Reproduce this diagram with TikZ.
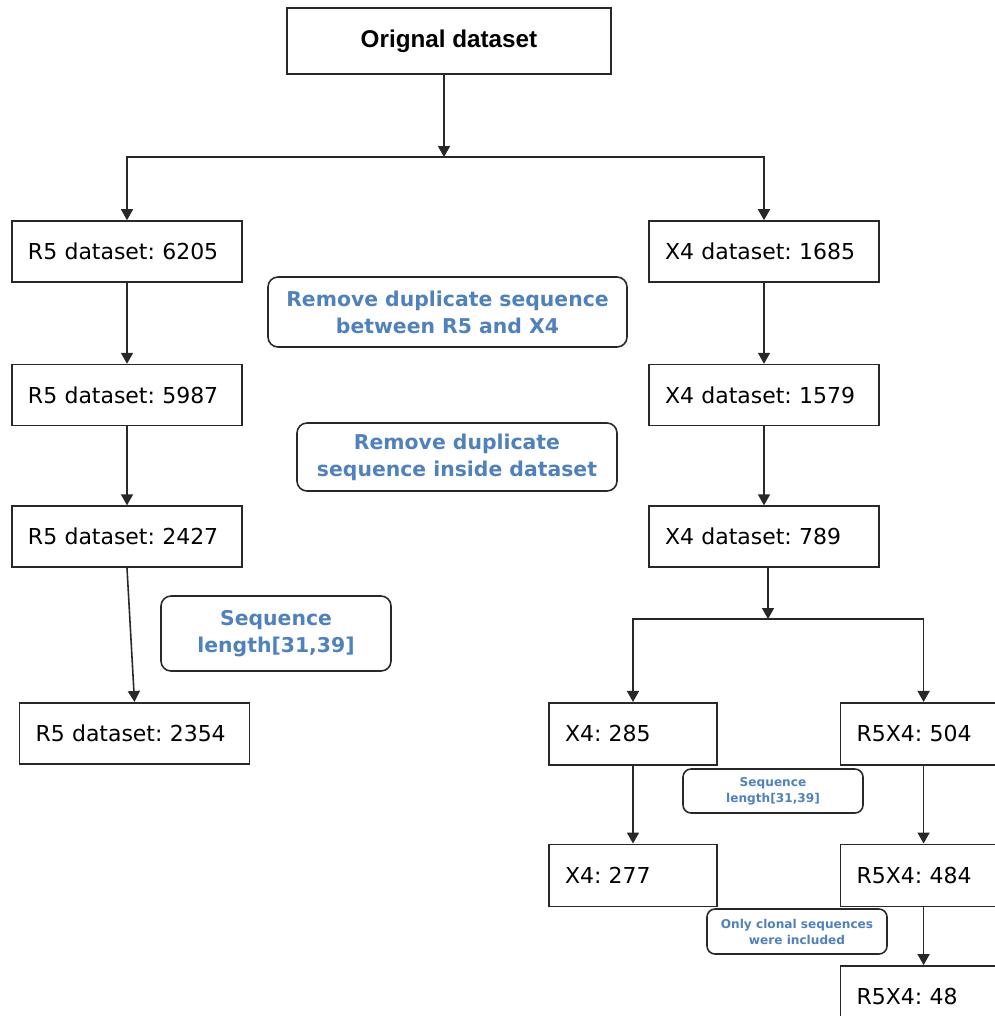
\documentclass[tikz,border=0pt]{standalone}
\usepackage{fontspec}
\usepackage{xcolor}
\usepackage{tikz}
\usetikzlibrary{arrows.meta, positioning}
\newfontfamily\dejavu{DejaVu Sans}
\newfontfamily\titlefont{Liberation Sans}
\definecolor{noteblue}{RGB}{79,129,189}
\definecolor{linegray}{RGB}{40,40,40}
\frenchspacing

\begin{document}
\begin{tikzpicture}[
  box/.style={rectangle, draw=linegray, line width=0.9pt, fill=white,
              minimum height=1.22cm, inner xsep=0.32cm, text width=#1,
              align=left, font=\dejavu\fontsize{12.5}{15}\selectfont},
  box/.default=3.96cm,
  note/.style={rectangle, rounded corners=0.2cm, draw=linegray, line width=0.9pt,
               text=noteblue, align=center, inner sep=1pt,
               font=\dejavu\bfseries\fontsize{11.6}{15.4}\selectfont},
  smallnote/.style={note, rounded corners=0.16cm,
                    font=\dejavu\bfseries\fontsize{6.9}{9.1}\selectfont},
  arr/.style={-{Triangle[length=0.22cm, width=0.24cm]}, line width=0.9pt, draw=linegray},
  node distance=1.62cm and 2.44cm
]
  \useasboundingbox (0,0) rectangle (19.9,-20.32);

  % Top
  \node[rectangle, draw=linegray, line width=0.9pt, minimum width=6.48cm, minimum height=1.32cm,
        font=\titlefont\bfseries\fontsize{13.8}{16}\selectfont] (orig) at (8.98,-0.82) {Orignal dataset};
  \coordinate (split1) at (8.88,-3.14);

  % Left column — R5
  \node[box] (r5a) at (2.54,-5.03) {R5 dataset: 6205};
  \node[box, below=of r5a] (r5b) {R5 dataset: 5987};
  \node[box, below=1.58cm of r5b] (r5c) {R5 dataset: 2427};
  \node[box, below=2.68cm of r5c, xshift=0.15cm] (r5d) {R5 dataset: 2354};

  % Right column — X4
  \node[box] (x4a) at (15.28,-5.03) {X4 dataset: 1685};
  \node[box, below=of x4a] (x4b) {X4 dataset: 1579};
  \node[box, below=1.58cm of x4b] (x4c) {X4 dataset: 789};
  \coordinate (split2) at (15.36,-12.38);

  % Split of X4 dataset
  \node[box=2.72cm, minimum height=1.24cm, below=2.68cm of x4c, xshift=-2.62cm] (x4d) {X4: 285};
  \node[box=2.68cm, minimum height=1.24cm, right=of x4d] (rxa) {R5X4: 504};
  \node[box=2.72cm, minimum height=1.24cm, below=1.56cm of x4d] (x4e) {X4: 277};
  \node[box=2.68cm, minimum height=1.24cm, below=1.56cm of rxa] (rxb) {R5X4: 484};
  \node[box=2.68cm, below=1.16cm of rxb] (rxc) {R5X4: 48};

  % Filter labels
  \node[note, minimum width=7.18cm, minimum height=1.4cm] (dupboth) at (8.95,-6.24)
    {Remove duplicate sequence\\between R5 and X4};
  \node[note, minimum width=6.4cm, minimum height=1.36cm] (dupin) at (9.14,-9.14)
    {Remove duplicate\\sequence inside dataset};
  \node[note, minimum width=4.6cm, minimum height=1.5cm] (lenr5) at (5.52,-12.67)
    {Sequence\\length[31,39]};
  \node[smallnote, minimum width=3.6cm, minimum height=0.88cm] (lenx4) at (15.46,-15.82)
    {Sequence\\length[31,39]};
  \node[smallnote, minimum width=3.6cm, minimum height=0.9cm] (clonal) at (15.94,-18.63)
    {Only clonal sequences\\were included};

  \draw[arr] (orig.south -| split1) -- (split1);
  \draw[arr] (split1) -| (r5a);
  \draw[arr] (split1) -| (x4a);
  \draw[arr] (r5a) -- (r5b);
  \draw[arr] (r5b) -- (r5c);
  \draw[arr] (r5c.south) -- (r5d.north);
  \draw[arr] (x4a) -- (x4b);
  \draw[arr] (x4b) -- (x4c);
  \draw[arr] (x4c.south -| split2) -- (split2);
  \draw[arr] (split2) -| (x4d);
  \draw[arr] (split2) -| (rxa);
  \draw[arr] (x4d) -- (x4e);
  \draw[arr] (rxa) -- (rxb);
  \draw[arr] (rxb) -- (rxc);
\end{tikzpicture}
\end{document}
